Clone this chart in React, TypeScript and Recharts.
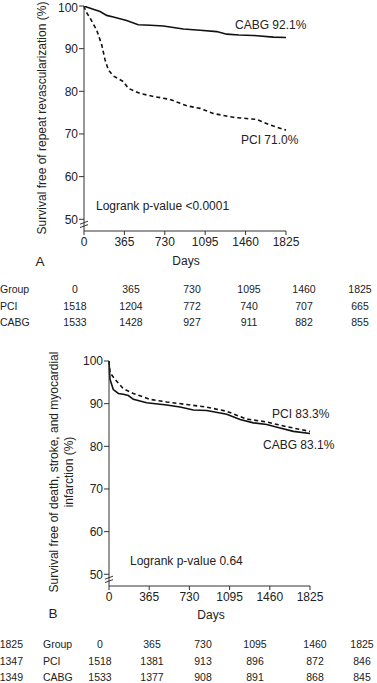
import { LineChart, Line, XAxis, YAxis, ReferenceLine } from 'recharts'

// panel A: repeat revascularization
const aCabgDays = [0, 30, 90, 145, 205, 265, 385, 490, 600, 717, 898, 1050, 1199, 1289, 1400, 1530, 1711, 1825]
const aCabgSurv = [100, 99.7, 99.2, 98.7, 97.8, 97.4, 96.6, 95.6, 95.5, 95.3, 94.6, 94.3, 94.0, 93.4, 93.2, 93.1, 92.7, 92.6]
const aPciDays = [0, 15, 54, 114, 160, 190, 220, 265, 355, 400, 506, 626, 777, 928, 1048, 1169, 1349, 1560, 1681, 1825]
const aPciSurv = [100, 98.8, 97.2, 94.4, 90.9, 87.4, 85.0, 83.6, 82.3, 80.7, 79.5, 78.8, 78.1, 76.6, 76.0, 74.8, 73.9, 73.4, 72.1, 70.9]

// panel B: death, stroke, MI
const bCabgDays = [0, 9, 39, 85, 130, 176, 221, 342, 524, 645, 766, 887, 1069, 1190, 1311, 1432, 1553, 1674, 1825]
const bCabgSurv = [100, 95.7, 93.3, 92.4, 92.2, 91.9, 91.0, 90.2, 89.7, 89.2, 88.5, 88.4, 87.5, 86.3, 85.5, 85.1, 84.3, 83.5, 83.0]
const bPciDays = [0, 9, 54, 130, 221, 372, 524, 705, 887, 1069, 1250, 1432, 1613, 1825]
const bPciSurv = [100, 97.3, 95.7, 93.5, 92.4, 91.0, 90.4, 89.8, 89.2, 88.2, 86.4, 85.7, 84.6, 83.5]

const dayTicks = [0, 365, 730, 1095, 1460, 1825]
const survTicks = [50, 60, 70, 80, 90, 100]

const groupRow = ['0', '365', '730', '1095', '1460', '1825']
const aPciAtRisk = ['1518', '1204', '772', '740', '707', '665']
const aCabgAtRisk = ['1533', '1428', '927', '911', '882', '855']
const bPciAtRisk = ['1518', '1381', '913', '896', '872', '846']
const bCabgAtRisk = ['1533', '1377', '908', '891', '868', '845']
const bLeftCol = ['1825', '1347', '1349']

const FONT = '"Liberation Sans", Arial, sans-serif'
const INK = '#222'

const toPts = (days: number[], surv: number[]) => days.map((d, i) => ({ day: d, surv: surv[i] }))

function Txt({ x, y, size = 12, children, center, right }: any) {
  let transform = 'translateY(-50%)'
  if (center) transform = 'translate(-50%, -50%)'
  if (right) transform = 'translate(-100%, -50%)'
  return (
    <div style={{ position: 'absolute', left: x, top: y, transform, fontSize: size, lineHeight: 1, whiteSpace: 'nowrap', color: INK }}>
      {children}
    </div>
  )
}

function KMChart({ cabg, pci, yWidth, height, top, right }: any) {
  // axis break marks on the y axis below 50
  const breakLo = [{ x: -36, y: 48.05 }, { x: 36, y: 48.75 }]
  const breakHi = [{ x: -36, y: 48.85 }, { x: 36, y: 49.55 }]
  return (
    <LineChart width={377} height={height} margin={{ top, right, bottom: 0, left: 0 }}>
      <XAxis dataKey="day" type="number" domain={[0, 1825]} ticks={dayTicks} height={20}
        tickSize={4} tickMargin={2} stroke="#333" tick={{ fontSize: 12, fill: INK, fontFamily: FONT }} />
      <YAxis type="number" domain={[47.25, 100]} ticks={survTicks} allowDataOverflow width={yWidth}
        tickSize={5} tickMargin={1} stroke="#333" tick={{ fontSize: 12, fill: INK, fontFamily: FONT }} />
      <ReferenceLine segment={breakLo} stroke="#333" ifOverflow="visible" />
      <ReferenceLine segment={breakHi} stroke="#333" ifOverflow="visible" />
      <Line data={cabg} dataKey="surv" type="linear" stroke="#111" strokeWidth={1.6} dot={false} isAnimationActive={false} />
      <Line data={pci} dataKey="surv" type="linear" stroke="#111" strokeWidth={1.6} strokeDasharray="4 3" dot={false} isAnimationActive={false} />
    </LineChart>
  )
}

export default function App() {
  const aCols = [75, 131, 192, 249, 304, 360]
  const aRows = [289, 306, 322]
  const bCols = [100, 152, 203, 255, 315, 362]
  const bRows = [644, 661, 677]
  const aTable = [groupRow, aPciAtRisk, aCabgAtRisk]
  const bTable = [groupRow, bPciAtRisk, bCabgAtRisk]
  const names = ['Group', 'PCI', 'CABG']
  return (
    <div style={{ position: 'absolute', left: 0, top: 0, width: 377, height: 683, background: '#fff', fontFamily: FONT, overflow: 'hidden' }}>
      <div style={{ position: 'absolute', left: 0, top: 0 }}>
        <KMChart cabg={toPts(aCabgDays, aCabgSurv)} pci={toPts(aPciDays, aPciSurv)} yWidth={84} height={251} top={6} right={91} />
      </div>
      <div style={{ position: 'absolute', left: 42, top: 118, transform: 'translate(-50%, -50%) rotate(-90deg)', fontSize: 12, lineHeight: 1, whiteSpace: 'nowrap', color: INK }}>
        Survival free of repeat revascularization (%)
      </div>
      <Txt x={235} y={25}>CABG 92.1%</Txt>
      <Txt x={241} y={140}>PCI 71.0%</Txt>
      <Txt x={96} y={206}>Logrank p-value &lt;0.0001</Txt>
      <Txt x={186} y={261} center>Days</Txt>
      <Txt x={40} y={261.5} size={13.5} center>A</Txt>
      {names.map((n, r) => <Txt key={'an' + r} x={0} y={aRows[r]} size={10.5}>{n}</Txt>)}
      {aTable.map((row, r) => row.map((v, c) => <Txt key={'a' + r + c} x={aCols[c]} y={aRows[r]} size={10.5} center>{v}</Txt>))}

      <div style={{ position: 'absolute', left: 0, top: 350 }}>
        <KMChart cabg={toPts(bCabgDays, bCabgSurv)} pci={toPts(bPciDays, bPciSurv)} yWidth={109} height={256} top={11} right={67} />
      </div>
      <div style={{ position: 'absolute', left: 61.5, top: 471.5, transform: 'translate(-50%, -50%) rotate(-90deg)', fontSize: 12, lineHeight: '15px', whiteSpace: 'nowrap', color: INK, textAlign: 'center' }}>
        Survival free of death, stroke, and myocardial<br />infarction (%)
      </div>
      <Txt x={272} y={414}>PCI 83.3%</Txt>
      <Txt x={263} y={445}>CABG 83.1%</Txt>
      <Txt x={130} y={561}>Logrank p-value 0.64</Txt>
      <Txt x={211} y={615} center>Days</Txt>
      <Txt x={53} y={614} size={13.5} center>B</Txt>
      {bLeftCol.map((v, r) => <Txt key={'bl' + r} x={23} y={bRows[r]} size={10.5} right>{v}</Txt>)}
      {names.map((n, r) => <Txt key={'bn' + r} x={43} y={bRows[r]} size={10.5}>{n}</Txt>)}
      {bTable.map((row, r) => row.map((v, c) => <Txt key={'b' + r + c} x={bCols[c]} y={bRows[r]} size={10.5} center>{v}</Txt>))}
    </div>
  )
}
